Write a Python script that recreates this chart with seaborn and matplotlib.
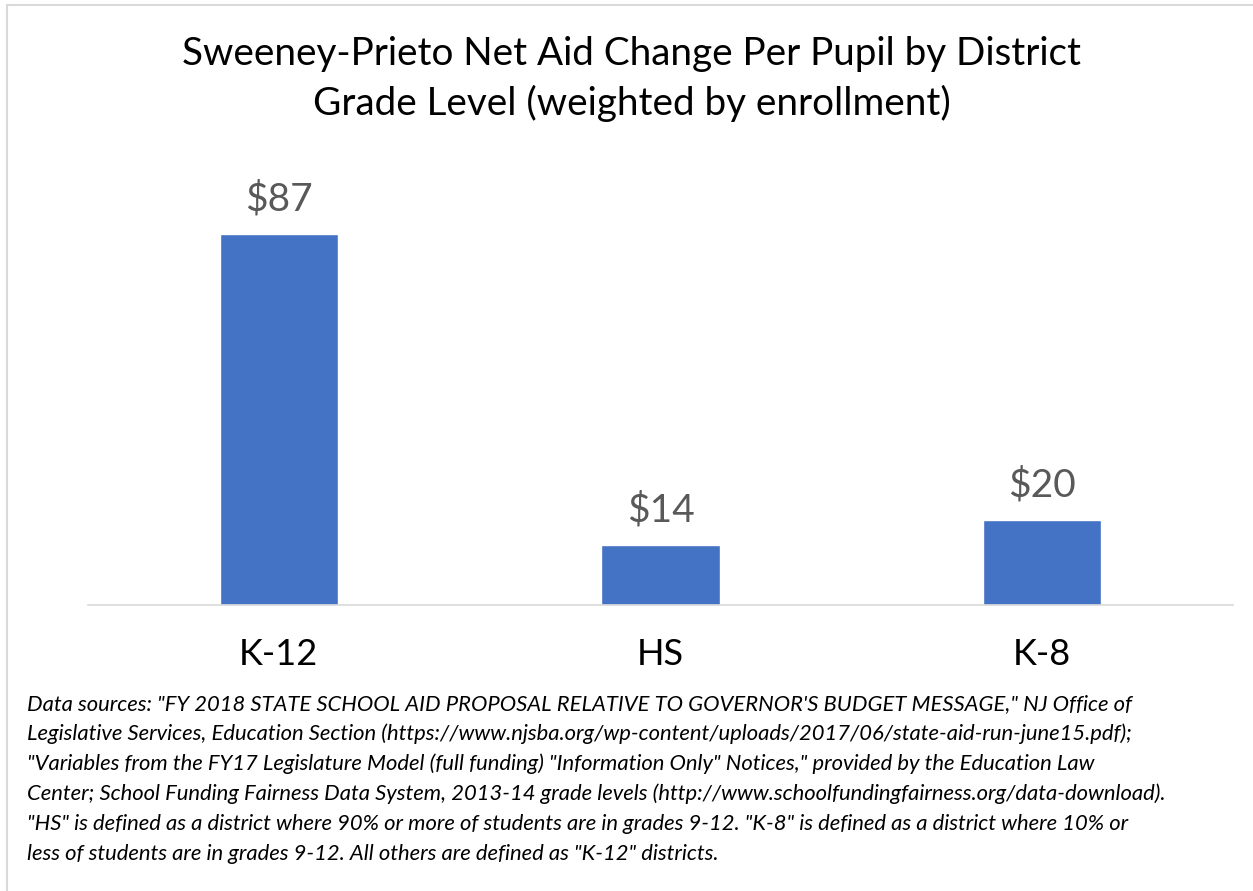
import matplotlib
matplotlib.use("Agg")
import matplotlib.pyplot as plt
import seaborn as sns
import pandas as pd

# chart values
grades = ["K-12", "HS", "K-8"]
aid_change = [87, 14, 20]
value_labels = ["$87", "$14", "$20"]

title = "Sweeney-Prieto Net Aid Change Per Pupil by District\nGrade Level (weighted by enrollment)"
note_lines = [
    "Data sources: \"FY 2018 STATE SCHOOL AID PROPOSAL RELATIVE TO GOVERNOR'S BUDGET MESSAGE,\" NJ Office of",
    "Legislative Services, Education Section (https://www.njsba.org/wp-content/uploads/2017/06/state-aid-run-june15.pdf);",
    "\"Variables from the FY17 Legislature Model (full funding) \"Information Only\" Notices,\" provided by the Education Law",
    "Center; School Funding Fairness Data System, 2013-14 grade levels (http://www.schoolfundingfairness.org/data-download).",
    "\"HS\" is defined as a district where 90% or more of students are in grades 9-12. \"K-8\" is defined as a district where 10% or",
    "less of students are in grades 9-12. All others are defined as \"K-12\" districts.",
]

df = pd.DataFrame({"grade": grades, "aid": aid_change})

sns.set_style("white")
plt.rcParams["font.family"] = ["Lato", "DejaVu Sans"]

fig = plt.figure(figsize=(12.53, 8.91), dpi=100)
ax = fig.add_axes([88 / 1253, 1 - 605 / 891, 1145 / 1253, 426 / 891])

sns.barplot(data=df, x="grade", y="aid", color="#4472C4", saturation=1,
            width=0.31, ax=ax)
ax.set_ylim(0, 100)
ax.set_xlim(-0.5, 2.5)

for i, (v, lab) in enumerate(zip(aid_change, value_labels)):
    ax.annotate(lab, (i, v), xytext=(0, 12), textcoords="offset points",
                ha="center", va="bottom", fontsize=28, color="#595959")

ax.set_xlabel("")
ax.set_ylabel("")
ax.set_yticks([])
ax.tick_params(axis="x", length=0, labelsize=26, labelcolor="black", pad=24)
for s in ["top", "right", "left"]:
    ax.spines[s].set_visible(False)
ax.spines["bottom"].set_color("#D9D9D9")
ax.spines["bottom"].set_linewidth(1.2)

fig.text(632 / 1253, 1 - 79 / 891, title, ha="center", va="center",
         fontsize=27.8, color="black", linespacing=1.4)

for k, line in enumerate(note_lines):
    fig.text(27 / 1253, 1 - (704 + 30 * k) / 891, line, ha="left", va="center",
             fontsize=15.8, style="italic", color="black")

# chart-area border (top and left edges visible)
fig.add_artist(plt.Line2D([7 / 1253, 1], [1 - 5 / 891, 1 - 5 / 891],
                          color="#D9D9D9", lw=1.5))
fig.add_artist(plt.Line2D([7 / 1253, 7 / 1253], [0, 1 - 5 / 891],
                          color="#D9D9D9", lw=1.5))

fig.savefig("out.png", dpi=100)
